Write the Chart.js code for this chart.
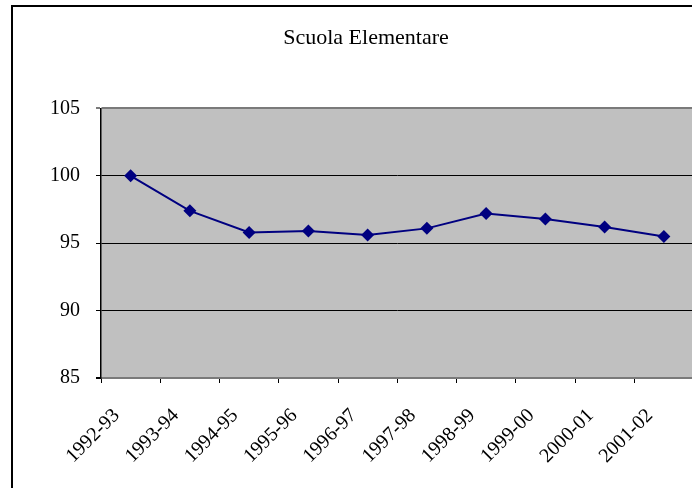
<!DOCTYPE html>
<html>
<head>
<meta charset="utf-8">
<script src="https://cdn.jsdelivr.net/npm/chart.js@4/dist/chart.umd.min.js"></script>
<style>
  html, body { margin: 0; padding: 0; background: #fff; overflow: hidden; }
  #wrap { position: relative; width: 692px; height: 488px; overflow: hidden; }
  #frame { position: absolute; left: 11px; top: 5px; width: 720px; height: 520px; border: 2px solid #000; box-sizing: border-box; }
  #lineChart { position: absolute; left: 0; top: 0; }
</style>
</head>
<body>
<div id="wrap">
  <div id="frame"></div>
  <canvas id="lineChart" width="700" height="488"></canvas>
</div>
<script>
  // data
  var years = ['1992-93', '1993-94', '1994-95', '1995-96', '1996-97',
               '1997-98', '1998-99', '1999-00', '2000-01', '2001-02']
  var indexValues = [100, 97.4, 95.8, 95.9, 95.6, 96.1, 97.2, 96.8, 96.2, 95.5]
  var yTicks = [85, 90, 95, 100, 105]

  var serif = "'Liberation Serif', 'Times New Roman', serif"

  // grey plot area like the old spreadsheet chart
  var plotBg = {
    id: 'plotBg',
    beforeDraw: function (chart) {
      var a = chart.chartArea
      var ctx = chart.ctx
      ctx.save()
      ctx.fillStyle = '#c0c0c0'
      ctx.fillRect(a.left, a.top, a.right - a.left, a.bottom - a.top)
      ctx.restore()
    }
  }

  window.onload = function () {
    var ctx = document.getElementById('lineChart').getContext('2d')
    window.myLine = new Chart(ctx, {
      type: 'line',
      data: {
        labels: years,
        datasets: [{
          label: 'Scuola Elementare',
          data: indexValues,
          borderColor: '#000080',
          backgroundColor: '#000080',
          borderWidth: 2,
          pointStyle: 'rectRot',
          pointRadius: 6.5,
          pointBorderWidth: 0,
          fill: false,
          tension: 0
        }]
      },
      options: {
        responsive: false,
        animation: false,
        layout: { padding: { left: 35, right: 3, top: 0, bottom: 0 } },
        plugins: {
          legend: { display: false },
          tooltip: { enabled: false },
          title: {
            display: true,
            text: 'Scuola Elementare',
            color: '#000',
            font: { family: serif, size: 22, weight: 'normal', lineHeight: 1.2 },
            padding: { top: 25, bottom: 57 }
          }
        },
        scales: {
          x: {
            offset: true,
            border: { display: true, color: '#7a7a7a', width: 2 },
            grid: { display: true, drawOnChartArea: false, offset: true, color: '#000', tickLength: 5 },
            ticks: {
              color: '#000',
              font: { family: serif, size: 20 },
              minRotation: 45,
              maxRotation: 45,
              autoSkip: false,
              padding: 21,
              labelOffset: -14
            },
            afterFit: function (scale) {
              scale.height = 110
              scale.paddingLeft = 0
              scale.paddingRight = 0
            }
          },
          y: {
            min: 85,
            max: 105,
            afterBuildTicks: function (scale) {
              scale.ticks = yTicks.map(function (v) { return { value: v } })
            },
            border: { display: true, color: '#000', width: 1.5 },
            grid: {
              color: function (c) { return c.tick && c.tick.value === 105 ? '#7a7a7a' : '#000' },
              lineWidth: function (c) { return c.tick && (c.tick.value === 105 || c.tick.value === 85) ? 2 : 1 },
              tickLength: 5
            },
            ticks: {
              color: '#000',
              font: { family: serif, size: 20 },
              padding: 16
            },
            afterFit: function (scale) { scale.width = 66 }
          }
        }
      },
      plugins: [plotBg]
    })
  }
</script>
</body>
</html>
